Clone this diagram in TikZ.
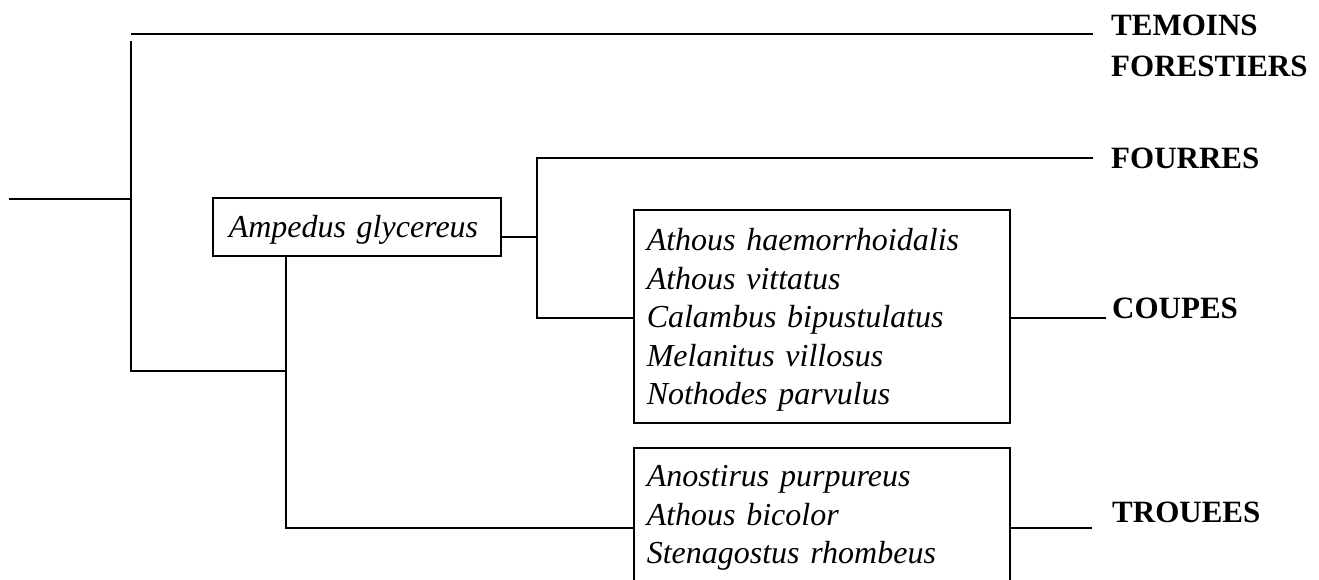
\documentclass[tikz,border=0pt]{standalone}
\usepackage{fontspec}
\setmainfont{Liberation Serif}
\begin{document}
\begin{tikzpicture}[x=1pt,y=-1pt,
  ln/.style={line width=1.7pt,black},
  box/.style={draw,line width=1.5pt,rectangle,anchor=north west,inner ysep=0pt,align=left,
    font=\itshape\fontsize{32}{38.5}\selectfont},
  lab/.style={inner sep=0pt,font=\bfseries\fontsize{31}{41}\selectfont,align=left}]
\useasboundingbox (0,0) rectangle (1319,579);
% boxes
\node[box,text width=256pt,inner xsep=16pt] (amp) at (212,197)
  {\rule{0pt}{40pt}Ampedus glycereus\rule[-18pt]{0pt}{18pt}};
\node[box,text width=350pt,inner xsep=13pt] (athous) at (633,209)
  {\rule{0pt}{41pt}Athous haemorrhoidalis\\Athous vittatus\\Calambus bipustulatus\\Melanitus villosus\\Nothodes parvulus\rule[-18pt]{0pt}{18pt}};
\node[box,text width=350pt,inner xsep=13pt] (anost) at (633,447)
  {\rule{0pt}{39pt}Anostirus purpureus\\Athous bicolor\\Stenagostus rhombeus\rule[-30pt]{0pt}{30pt}};
% labels
\node[lab,anchor=north west] (temoins) at (1111,14.5) {TEMOINS\\FORESTIERS};
\node[lab,anchor=base west] (fourres) at (1111,168) {FOURRES};
\node[lab,anchor=base west] (coupes) at (1112,318) {COUPES};
\node[lab,anchor=base west] (trouees) at (1112,522) {TROUEES};
% junction coordinates
\coordinate (root) at (9,199);
\coordinate (j1) at (131,199);
\coordinate (vtop) at (131,41);
\coordinate (vbot) at (131,371);
\coordinate (ttop) at (131,34);
\coordinate (tend) at (1093,34);
\coordinate (a1) at (286,371);
\coordinate (ampdown) at (286,255);
\coordinate (a2) at (286,528);
\coordinate (j2) at (537,237);
\coordinate (f1) at (537,158);
\coordinate (fend) at (1093,158);
\coordinate (j3) at (537,318);
\coordinate (cend) at (1106,318);
\coordinate (tend2) at (1092,528);
% connectors
\draw[ln] (root) -- (j1);
\draw[ln] (vtop) -- (vbot) -- (a1);
\draw[ln] (ttop) -- (tend);
\draw[ln] (ampdown) -- (a2) -- (a2 -| anost.west);
\draw[ln] (amp.east |- j2) -- (j2);
\draw[ln] (fend) -- (f1) -- (j3) -- (j3 -| athous.west);
\draw[ln] (j3 -| athous.east) -- (cend);
\draw[ln] (a2 -| anost.east) -- (tend2);
\end{tikzpicture}
\end{document}
